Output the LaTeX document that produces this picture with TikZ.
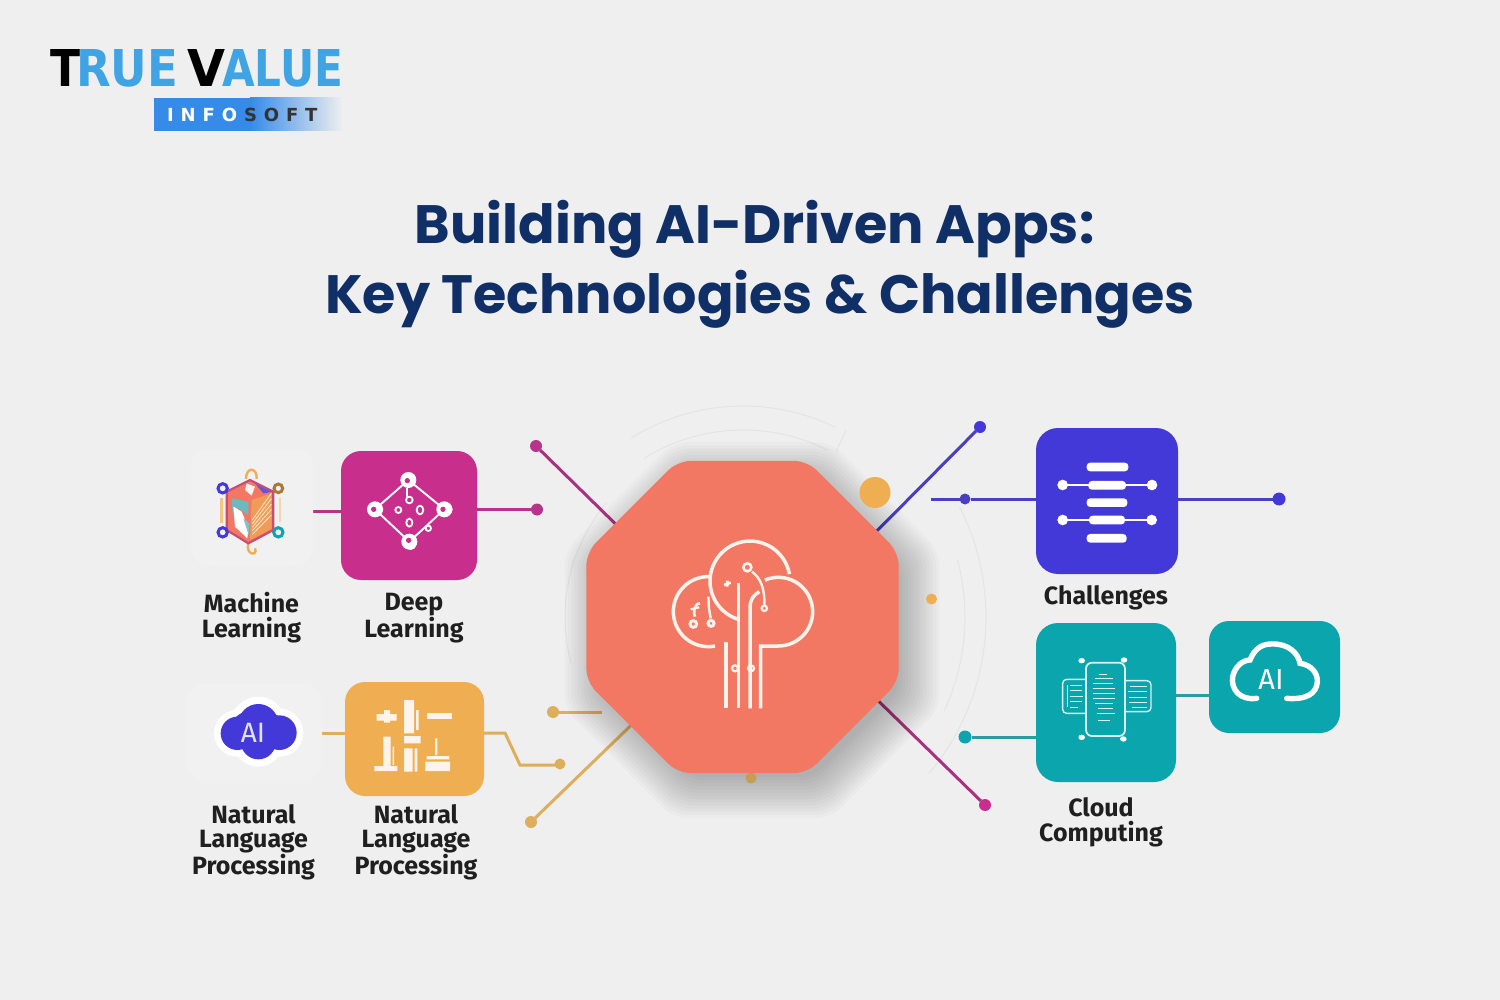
\documentclass[tikz,border=0pt]{standalone}
\usepackage{graphicx}
\usepackage{fontspec}
\setmainfont{Fira Sans}
\newfontfamily\titlefont{Poppins}
\newfontfamily\logofont{DejaVu Sans}
\newfontfamily\spacedfont[LetterSpace=38]{DejaVu Sans}
\usetikzlibrary{shapes.geometric,calc}
\pgfdeclarelayer{bg}
\pgfsetlayers{bg,main}
\definecolor{pagebg}{HTML}{EFEFEF}
\definecolor{panelbg}{HTML}{F1F1F1}
\definecolor{navy}{HTML}{0F2F66}
\definecolor{coral}{HTML}{F37863}
\definecolor{magentaA}{HTML}{C82F8C}
\definecolor{magentaL}{HTML}{A8327F}
\definecolor{magentaD}{HTML}{B8338A}
\definecolor{goldA}{HTML}{EFAE52}
\definecolor{goldL}{HTML}{DDAE5C}
\definecolor{indigoA}{HTML}{4338D8}
\definecolor{indigoL}{HTML}{4A3FC0}
\definecolor{tealA}{HTML}{0AA5AD}
\definecolor{tealL}{HTML}{2A9CA4}
\definecolor{logoblue}{HTML}{3FA3E4}
\definecolor{cream}{HTML}{FFF4EC}
\definecolor{faintline}{HTML}{E4E4E4}
\tikzset{
  tile/.style={rectangle,rounded corners=#1,inner sep=0pt,outer sep=0pt},
  dot/.style={circle,inner sep=0pt,outer sep=0pt,fill=#1},
  link/.style={line width=3pt,draw=#1},
  lbl/.style={font=\fontsize{25}{25}\selectfont\bfseries,align=center,text=black!88,inner sep=0pt},
  lbltight/.style={font=\fontsize{25}{24}\selectfont\bfseries,align=center,text=black!88,inner sep=0pt},
  ttl/.style={font=\titlefont\fontsize{54}{60}\selectfont\bfseries,text=navy,inner sep=0pt,anchor=base},
  zoomed/.style 2 args={shift={(#1,#2)},x=.33333pt,y=-.33333pt},
  faint/.style={draw=faintline,line width=1pt},
}
\newcommand{\farc}[3]{\draw[faint] ({743+#1*cos(#2)},{617+#1*sin(#2)}) arc[start angle=#2,end angle=#3,radius=#1];}
\begin{document}
\begin{tikzpicture}[x=1pt,y=-1pt]
\useasboundingbox (0,0) rectangle (1500,1000);

% ---------- logo
\fill[logoblue!85!blue] (154,98) rectangle (250,131);
\fill[left color=logoblue!85!blue,right color=pagebg] (250,98) rectangle (343,131);
\node[inner sep=0pt,anchor=south west,text=black] (logoT) at (50,87) {\resizebox{30pt}{37pt}{\logofont\bfseries T}};
\node[inner sep=0pt,anchor=south west,text=logoblue] (logoR) at (76,87) {\resizebox{102pt}{37pt}{\logofont\bfseries RUE}};
\node[inner sep=0pt,anchor=south west,text=black] (logoV) at (187,87) {\resizebox{38pt}{37pt}{\logofont\bfseries V}};
\node[inner sep=0pt,anchor=south west,text=logoblue] (logoA) at (222,87) {\resizebox{121pt}{37pt}{\logofont\bfseries ALUE}};
\node[inner sep=0pt,anchor=west] (logoI) at (167,115) {\fontsize{18}{20}\spacedfont\bfseries\textcolor{white}{INFO}\kern7pt\textcolor{black!80}{SOFT}};

% ---------- title
\node[ttl] (title1) at (754.5,243.5) {Building AI-Driven Apps:};
\node[ttl] (title2) at (760,313.5) {Key Technologies \& Challenges};

% ---------- tiles
\node[tile=18pt,fill=panelbg,minimum width=122pt,minimum height=117pt] (mlback) at (252,507) {};
\node[tile=18pt,fill=panelbg,minimum width=136pt,minimum height=97pt] (nlpback) at (254,732) {};
\node[tile=20pt,fill=magentaA,minimum width=136pt,minimum height=129pt] (dl) at (409,515.5) {};
\node[tile=20pt,fill=goldA,minimum width=139pt,minimum height=114pt] (nlp) at (414.5,739) {};
\node[tile=22pt,fill=indigoA,minimum width=142pt,minimum height=146pt] (chal) at (1107,501) {};
\node[tile=22pt,fill=tealA,minimum width=140pt,minimum height=159pt] (cloud) at (1106,702.5) {};
\node[tile=20pt,fill=tealA,minimum width=131pt,minimum height=112pt] (aibox) at (1274.5,677) {};

% ---------- dots
\node[dot=magentaD,minimum size=12pt] (d1) at (536,446) {};
\node[dot=magentaD,minimum size=12pt] (d2) at (537,509.5) {};
\node[dot=goldL,minimum size=12pt] (d3) at (553,712) {};
\node[dot=goldL,minimum size=11pt] (d4) at (560,764) {};
\node[dot=goldL,minimum size=12pt] (d5) at (531,822) {};
\node[dot=indigoA,minimum size=12pt] (d6) at (980,427) {};
\node[dot=indigoL,minimum size=11pt] (d7) at (965,499) {};
\node[dot=indigoA,minimum size=13pt] (d8) at (1279,499) {};
\node[dot=tealA,minimum size=13pt] (d9) at (965,737) {};
\node[dot=magentaA,minimum size=12pt] (d10) at (985,805) {};

% ---------- free ends and bends
\coordinate (ml-end) at (313,511.5);
\coordinate (nlp-end) at (322,733);
\coordinate (b1) at (505,733);
\coordinate (b2) at (520,765);
\coordinate (o1) at (640,548);
\coordinate (o2) at (602,712);
\coordinate (o3) at (650,707);
\coordinate (o4) at (860,548);
\coordinate (o5) at (860,683);
\coordinate (c-end) at (931,499);
\coordinate (ai-link) at (1192,695);

% ---------- shadow
\foreach \s in {1.2,1.18,...,0.92}{
  \fill[black,opacity=.02,shift={(752,630)},scale=\s,rounded corners=14pt]
    (-66,-156.5)--(66,-156.5)--(156,-66)--(156,66)--(66,156.5)--(-66,156.5)--(-156,66)--(-156,-66)--cycle;
}
\node[dot=goldA,minimum size=31pt] (sun) at (875,492.5) {};
\node[dot=goldA,minimum size=11pt] (sm1) at (931.5,599) {};
\node[dot=goldL!90!black,minimum size=11pt] (sm2) at (751,778) {};

% ---------- octagon
\node[regular polygon,regular polygon sides=8,minimum size=338pt,inner sep=0pt,outer sep=0pt,fill=coral,rounded corners=13pt] (hub) at (742.5,617) {};

% ---------- connectors
\begin{pgfonlayer}{bg}
\fill[pagebg] (0,0) rectangle (1500,1000);
\fill[panelbg!20!pagebg] (100,378) rectangle (1430,915);
\farc{211}{238}{296}
\farc{187}{238}{297}
\farc{243}{-27}{40}
\farc{222}{-15}{25}
\farc{178}{165}{220}
\draw[faint] (846,430)--(836,452);
\draw[link=magentaD] (ml-end)--(ml-end -| dl);
\draw[link=magentaD] (d2 -| dl)--(d2);
\draw[link=magentaL] (d1)--(o1);
\draw[link=goldL] (nlp-end)--(nlp-end -| nlp);
\draw[link=goldL] (b1 -| nlp)--(b1)--(b2)--(b2 -| d4);
\draw[link=goldL] (d3)--(o2);
\draw[link=goldL] (d5)--(o3);
\draw[link=indigoL] (d6)--(o4);
\draw[link=indigoL] (c-end)--(d7)--(d7 -| chal);
\draw[link=indigoL] (d8 -| chal)--(d8);
\draw[link=tealL] (d9)--(d9 -| cloud);
\draw[link=tealL] (ai-link -| cloud)--(ai-link -| aibox);
\draw[link=magentaL] (o5)--(d10);
\end{pgfonlayer}

% ---------- tree icon
\begin{scope}[zoomed={640}{520},draw=cream,line width=3.5pt]
  \draw (225,378) arc[start angle=79,end angle=273,radius=105];
  \draw (295,298) arc[start angle=107,end angle=350,radius=120];
  \draw (362,565)--(362,378)--(415,378) arc[start angle=90,end angle=-113,radius=103];
  \draw (258,565)--(258,365);
  \draw (295,565)--(295,188);
  \draw (330,565)--(330,262) .. controls (330,240) and (340,225) .. (358,215);
  \draw[line width=2.4pt] (336,155) .. controls (362,175) and (375,205) .. (373,258);
  \draw[line width=2.4pt] (205,230)--(207,265)--(212,295);
  \draw[line width=2.6pt] (322,142) circle (12);
  \draw[line width=2.2pt] (373,265) circle (8);
  \draw[line width=2.2pt] (285,445) circle (9);
  \draw[line width=2.2pt] (333,445) circle (9);
  \draw[line width=3pt] (160,312) circle (10);
  \draw[line width=3pt] (213,310) circle (9);
  \draw[line width=2.6pt] (180,250) .. controls (160,250) and (160,285) .. (165,290);
  \draw[line width=2.2pt] (152,268)--(178,262);
  \draw[line width=2.8pt] (252,195)--(272,188) (262,182)--(262,200);
\end{scope}

% ---------- machine learning icon
\begin{scope}[zoomed={200}{455}]
  \draw[line width=2.6pt,draw=goldA!70!white] (65,130)--(65,205);
  \draw[line width=2.6pt,draw=goldA!50!white] (240,130)--(240,200);
  \draw[line width=2.4pt,draw=goldA] (138,72) .. controls (138,35) and (172,35) .. (170,72);
  \draw[line width=2.4pt,draw=goldA] (145,265) .. controls (135,300) and (175,305) .. (165,280);
  \fill[coral] (150,75)--(220,110)--(220,225)--(145,265)--(80,225)--(80,110)--cycle;
  \fill[indigoA!85!white] (150,75)--(220,110)--(190,115)--(165,85)--cycle;
  \fill[white!90!coral] (140,85)--(165,95)--(155,122)--(135,105)--cycle;
  \fill[tealL!70!white] (95,130)--(145,140)--(145,180)--(115,160)--(98,180)--cycle;
  \fill[white] (100,155)--(125,170)--(145,220)--(142,250)--(105,215)--cycle;
  \fill[tealL!60!white] (130,190)--(148,205)--(146,240)--cycle;
  \fill[goldA!65!coral] (155,135)--(215,115)--(215,222)--(150,255)--cycle;
  \foreach \k in {0,18,36,54,72}{\draw[goldA!35!white,line width=.9pt] (157,{195+\k*.6})--(214,{115+\k*.9});}
  \draw[magentaL!60!coral,line width=2.2pt] (150,75)--(220,110)--(220,225)--(145,265)--(80,225)--(80,110)--cycle;
  \draw[line width=3pt,draw=indigoA] (68,100) circle (14);
  \draw[line width=3pt,draw=goldA!70!black] (235,100) circle (13);
  \draw[line width=3pt,draw=indigoA] (68,232) circle (14);
  \draw[line width=3pt,draw=tealA] (235,232) circle (14);
\end{scope}

% ---------- deep learning icon
\begin{scope}[zoomed={350}{460},draw=white]
  \draw[line width=1.9pt] (175,60)--(283,148)--(178,245)--(75,148)--cycle;
  \draw[line width=1.8pt] (172,85)--(172,110);
  \foreach \p/\q/\a/\b in {175/60/6/-4,283/148/8/0,178/245/4/8,75/148/8/0}{
    \fill[white] (\p,\q) circle (24);
    \fill[white] ({\p+\a},{\q+\b}) circle (17);
    \fill[magentaA] ({\p-\a/2},{\q-\b/2}) circle (8);
  }
  \draw[line width=1.8pt] (178,120) circle (10);
  \draw[line width=1.8pt] (145,150) circle (9);
  \draw[line width=1.8pt] (210,150) ellipse (10 and 13);
  \draw[line width=1.8pt] (178,188) ellipse (9 and 12);
  \draw[line width=1.8pt] (235,205) circle (8);
\end{scope}

% ---------- NLP cloud
\begin{scope}[zoomed={180}{670}]
  \foreach \p/\q/\r in {235/162/82,172/190/70,298/188/72,235/215/75,205/175/72,265/178/72}{\fill[white] (\p,\q) circle (\r);}
  \foreach \p/\q/\r in {235/162/60,172/190/50,298/188/52,235/215/53,205/175/50,265/178/50}{\fill[indigoA] (\p,\q) circle (\r);}
\end{scope}
\node[inner sep=0pt,text=white!85!indigoA,font=\fontsize{28}{30}\selectfont] (ai1) at (253,733) {AI};

% ---------- gold icon
\begin{scope}[zoomed={180}{670}]
  \fill[cream] (590,132) rectangle (650,152) (612,120) rectangle (630,158);
  \fill[cream] (672,90) rectangle (702,190) (708,120) rectangle (716,180);
  \fill[cream] (740,128) rectangle (815,148);
  \fill[cream] (610,200) rectangle (632,292) (583,288) rectangle (652,303) (638,230) rectangle (642,285);
  \fill[cream] (672,198) rectangle (722,220) (672,235) rectangle (698,305) (704,235) rectangle (712,305);
  \fill[cream] (765,205) rectangle (772,255) (740,258) rectangle (808,268) (736,275) rectangle (810,303);
\end{scope}

% ---------- challenges icon
\begin{scope}[zoomed={920}{410}]
  \draw[white,line width=1.5pt] (428,225)--(696,225) (428,330)--(695,330);
  \foreach \p/\q in {428/225,696/225,428/330,695/330}{\fill[white] (\p,\q) circle (16);}
  \foreach \a/\b/\y in {500/625/171,505/618/226,500/622/278,507/615/330,500/620/385}{
    \fill[white,rounded corners=3.5pt] (\a,{\y-13}) rectangle (\b,{\y+13});
  }
\end{scope}

% ---------- cloud computing icon
\begin{scope}[zoomed={1050}{650},draw=white!85!tealA]
  \draw[line width=1.4pt,rounded corners=4pt] (108,88)--(38,88)--(38,190)--(108,190);
  \draw[line width=1.4pt,rounded corners=4pt] (225,92)--(303,92)--(303,185)--(225,185);
  \draw[line width=1.8pt,rounded corners=6pt] (108,38) rectangle (225,258);
  \foreach \p/\q in {95/32,222/30,95/262,220/267}{\fill[white] (\p,\q) ellipse (10 and 8);}
  \foreach \y/\a/\b in {72/148/170,85/135/190,100/130/190,115/128/195,130/128/195,145/128/195,160/135/190,175/145/190,190/140/195,212/145/180}{
    \draw[line width=.9pt] (\a,\y)--(\b,\y);
  }
  \foreach \y/\b in {105/95,122/95,138/100,155/95,172/85}{\draw[line width=.9pt] (60,\y)--(\b,\y);}
  \foreach \y/\a in {108/240,125/235,142/238,158/238,172/245}{\draw[line width=.9pt] (\a,\y)--(290,\y);}
  \draw[line width=.8pt] (52,105)--(52,172);
\end{scope}

% ---------- AI cloud outline
\begin{scope}[zoomed={950}{610}]
  \draw[white,line width=5.4pt,line cap=round]
    (920,265) .. controls (870,272) and (842,238) .. (848,200)
    .. controls (855,168) and (880,150) .. (900,150)
    .. controls (915,112) and (940,102) .. (965,102)
    .. controls (1015,100) and (1045,130) .. (1050,160)
    .. controls (1085,165) and (1103,190) .. (1102,215)
    .. controls (1100,250) and (1070,270) .. (1010,265);
\end{scope}
\node[inner sep=0pt,text=white,font=\fontsize{29}{30}\selectfont] (ai2) at (1271,680) {AI};

% ---------- labels
\node[lbl] (l1) at (251.5,618) {Machine\\Learning};
\node[lbl] (l2) at (414,618.5) {Deep\\Learning};
\node[lbltight] (l3) at (253.5,842.5) {Natural\\Language\\Processing};
\node[lbltight] (l4) at (416,842.5) {Natural\\Language\\Processing};
\node[lbl] (l5) at (1106,598) {Challenges};
\node[lbl] (l6) at (1101,822.5) {Cloud\\Computing};
\end{tikzpicture}
\end{document}
